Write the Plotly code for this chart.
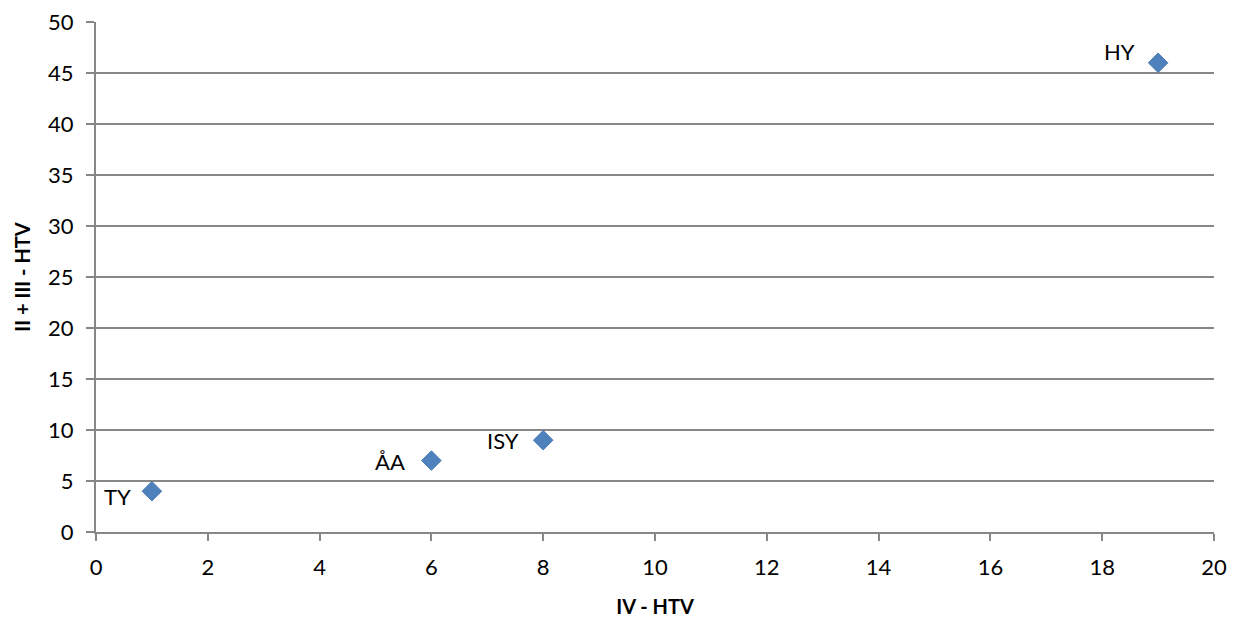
import plotly.graph_objects as go

labels = ["TY", "ÅA", "ISY", "HY"]
x_iv_htv = [1, 6, 8, 19]
y_ii_iii_htv = [4, 7, 9, 46]

x_ticks = [0, 2, 4, 6, 8, 10, 12, 14, 16, 18, 20]
y_ticks = [0, 5, 10, 15, 20, 25, 30, 35, 40, 45, 50]

label_offset = {"TY": (-19, -5), "ÅA": (-24, -1), "ISY": (-22, 0), "HY": (-21, 11)}

FONT = "Lato, Open Sans, sans-serif"
GRID = "#878787"

fig = go.Figure()
fig.add_trace(go.Scatter(
    x=x_iv_htv, y=y_ii_iii_htv, mode="markers",
    marker=dict(symbol="diamond", size=15, color="#4F81BD",
                line=dict(color="#4677B3", width=1)),
    showlegend=False, hoverinfo="x+y",
))
for lab, xv, yv in zip(labels, x_iv_htv, y_ii_iii_htv):
    dx, dy = label_offset[lab]
    fig.add_annotation(x=xv, y=yv, text=lab, showarrow=False,
                       xanchor="right", yanchor="middle",
                       xshift=dx, yshift=dy,
                       font=dict(family=FONT, size=22, color="#000000"))

fig.update_layout(
    width=1239, height=618,
    margin=dict(l=96, r=25, t=22, b=86, autoexpand=False),
    paper_bgcolor="white", plot_bgcolor="white",
    font=dict(family=FONT, color="#000000"),
    xaxis=dict(
        range=[0, 20], tickvals=x_ticks, ticktext=[str(v) for v in x_ticks],
        automargin=False,
        showgrid=False, zeroline=False, showline=True, linecolor=GRID, linewidth=2,
        ticks="outside", ticklen=7, tickcolor=GRID, tickwidth=2,
        ticklabelstandoff=8,
        tickfont=dict(size=22, family=FONT),
        title=dict(text="<b>IV - HTV</b>", font=dict(size=20, family=FONT), standoff=22),
    ),
    yaxis=dict(
        range=[0, 50], tickvals=y_ticks, ticktext=[str(v) for v in y_ticks],
        automargin=False,
        showgrid=True, gridcolor=GRID, gridwidth=2,
        zeroline=False, showline=True, linecolor=GRID, linewidth=2,
        ticks="outside", ticklen=8, tickcolor=GRID, tickwidth=2,
        ticklabelstandoff=8,
        tickfont=dict(size=22, family=FONT),
        title=dict(text="<b>II + III - HTV</b>", font=dict(size=20, family=FONT), standoff=12),
    ),
)

fig.write_html(
    "out.html",
    config={"displayModeBar": False},
    post_script="document.body.style.margin='0';document.body.style.overflow='hidden';",
)
